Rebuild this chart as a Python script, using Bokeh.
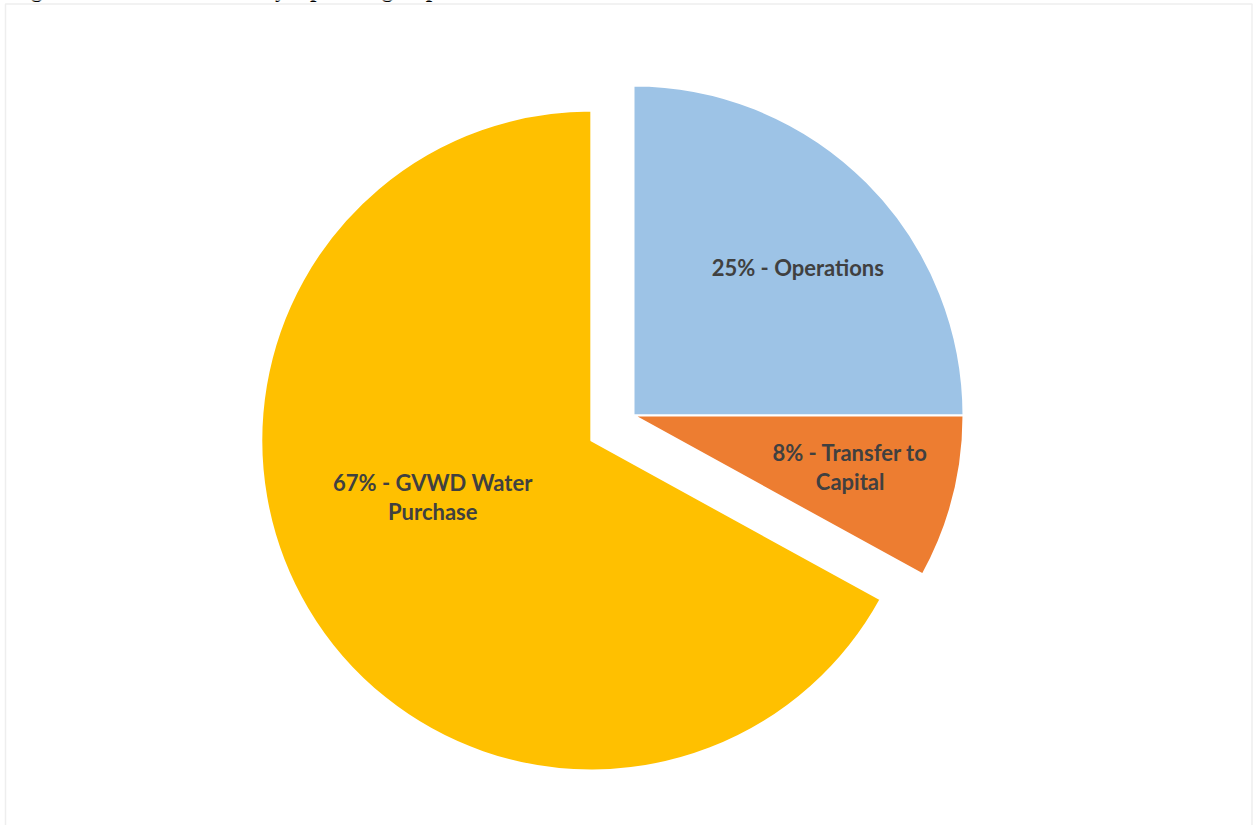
import math
from bokeh.plotting import figure
from bokeh.models import Range1d, BoxAnnotation, ColumnDataSource
from bokeh.core.properties import value
from bokeh.embed import file_html
from bokeh.resources import INLINE

# ---- data ----
categories = ["Operations", "Transfer to Capital", "GVWD Water Purchase"]
shares = [25, 8, 67]
labels = ["25% - Operations", "8% - Transfer to\nCapital", "67% - GVWD Water\nPurchase"]
colors = ["#9DC3E6", "#ED7D31", "#FFC000"]
title_text = "Figure 2: 2024 Water Utility Operating Expenditures"

# ---- style / layout params ----
W, H = 1253, 825
cx, cy = 633, 410          # pie centre (data units = pixels, y up)
radius = 330
explode = [0, 0, 49]        # outward offset of each slice
label_frac = [0.67, 0.675, 0.51]
label_dang = [-3, 1, -11]   # degrees nudge of label from slice bisector

p = figure(width=W, height=H, x_range=Range1d(0, W), y_range=Range1d(0, H),
           output_backend="svg", toolbar_location=None, min_border=0,
           background_fill_color="white", border_fill_color="white")
p.axis.visible = False
p.grid.visible = False
p.outline_line_color = None

total = float(sum(shares))
cum = 0.0
xs, ys, sa, ea, lx, ly = [], [], [], [], [], []
for i, s in enumerate(shares):
    a0 = math.pi / 2 - 2 * math.pi * cum / total
    a1 = math.pi / 2 - 2 * math.pi * (cum + s) / total
    mid = (a0 + a1) / 2
    ox = cx + explode[i] * math.cos(mid)
    oy = cy + explode[i] * math.sin(mid)
    xs.append(ox); ys.append(oy); sa.append(a0); ea.append(a1)
    la = mid + math.radians(label_dang[i])
    lx.append(ox + label_frac[i] * radius * math.cos(la))
    ly.append(oy + label_frac[i] * radius * math.sin(la))
    cum += s

src = ColumnDataSource(dict(x=xs, y=ys, start=sa, end=ea, color=colors,
                            cat=categories, lx=lx, ly=ly, label=labels))
p.wedge(x="x", y="y", radius=radius, start_angle="start", end_angle="end",
        direction="clock", fill_color="color", line_color="white",
        line_width=2, source=src)
p.text(x="lx", y="ly", text="label", source=src, text_align="center",
       text_baseline="middle", text_font=value("Lato"), text_font_style="bold",
       text_font_size="22px", text_color="#404040", text_line_height=1.08)

# title of the page, cut off by the top edge (only descenders visible)
p.text(x=[10], y=[H + 11], text=[title_text], text_align="left",
       text_baseline="alphabetic", text_font=value("Liberation Serif"),
       text_font_style="bold", text_font_size="23px", text_color="black")

# chart area border
p.add_layout(BoxAnnotation(left=5, right=1251.5, top=H - 3.5, bottom=-20,
                           fill_alpha=0, line_color="#C8C8C8", line_width=1.5))

open("out.html", "w").write(file_html(p, INLINE))
